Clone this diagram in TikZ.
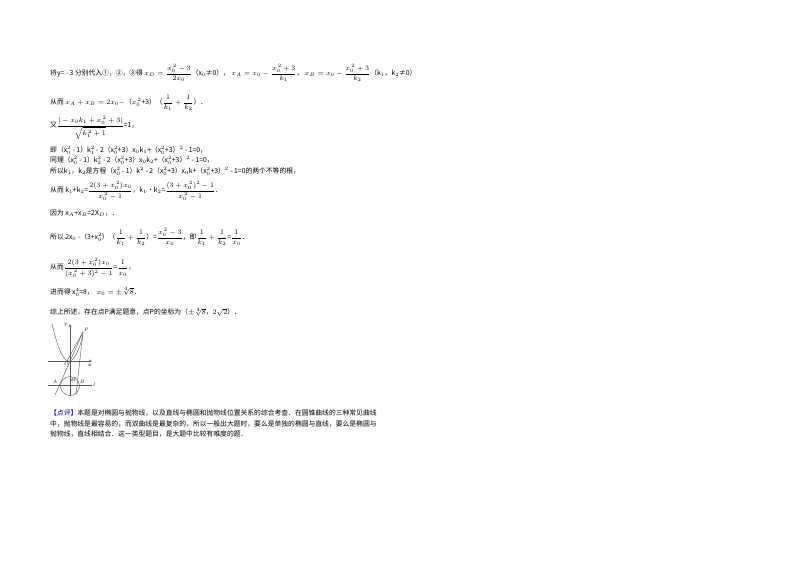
\documentclass[tikz,border=0pt]{standalone}
\usepackage{fontspec}
\usepackage{amsmath}
\newfontfamily\cjk{Noto Sans CJK SC}
\begin{document}
\begin{tikzpicture}[x=1pt,y=-1pt,
  txt/.style={anchor=west,inner sep=0pt,font=\cjk\fontsize{6.8}{8}\selectfont},
  fig/.style={line width=0.4pt,gray!70!black}]
\useasboundingbox (0,0) rectangle (800,566);
\fill[white] (0,0) rectangle (800,566);
\node[txt] (l1) at (50,73) {将y= - 3 分别代入①，②，③得$\,x_D=\dfrac{x_0^{\,2}-3}{2x_0}$（x$_0$≠0），
 $x_A=x_0-\dfrac{x_0^{\,2}+3}{k_1}$，\ $x_B=x_0-\dfrac{x_0^{\,2}+3}{k_2}$（k$_1$，k$_2$≠0）};
\node[txt] (l2) at (50,103) {从而 $x_A+x_B=2x_0-$（$x_0^{\,2}$+3）（$\dfrac{1}{k_1}+\dfrac{1}{k_2}$）．};
\node[txt] (l3) at (50,128) {又$\dfrac{|-x_0k_1+x_0^{\,2}+3|}{\sqrt{k_1^{\,2}+1}}$=1，};
\node[txt] (l4) at (50,150) {即（x$_0^2$ - 1）k$_1^2$ - 2（x$_0^2$+3）x$_0$k$_1$+（x$_0^2$+3）$^2$ - 1=0，};
\node[txt] (l5) at (50,160.5) {同理（x$_0^2$ - 1）k$_2^2$ - 2（x$_0^2$+3）x$_0$k$_2$+（x$_0^2$+3）$^2$ - 1=0，};
\node[txt] (l6) at (50,171) {所以k$_1$，k$_2$是方程（x$_0^2$ - 1）k$^2$ - 2（x$_0^2$+3）x$_0$k+（x$_0^2$+3）$^2$ - 1=0的两个不等的根，};
\node[txt] (l7) at (50,191) {从而 k$_1$+k$_2$=$\dfrac{2(3+x_0^{\,2})x_0}{x_0^{\,2}-1}$，k$_1$•k$_2$=$\dfrac{(3+x_0^{\,2})^2-1}{x_0^{\,2}-1}$．};
\node[txt] (l8) at (50,213) {因为 x$_A$+x$_B$=2X$_D$，．};
\node[txt] (l9) at (50,237) {所以 2x$_0$ -（3+x$_0^2$）（$\dfrac{1}{k_1}+\dfrac{1}{k_2}$）=$\dfrac{x_0^{\,2}-3}{x_0}$，即$\dfrac{1}{k_1}+\dfrac{1}{k_2}$=$\dfrac{1}{x_0}$．};
\node[txt] (l10) at (50,268) {从而$\dfrac{2(3+x_0^{\,2})x_0}{(x_0^{\,2}+3)^2-1}$=$\dfrac{1}{x_0}$，};
\node[txt] (l11) at (50,292) {进而得 x$_0^4$=8，\ \ $x_0=\pm\sqrt[4]{8}$．};
\node[txt] (l12) at (50,312) {综上所述，存在点P满足题意，点P的坐标为（$\pm\sqrt[4]{8}$，$2\sqrt{2}$）．};
% figure
\coordinate (ya) at (70,396); \coordinate (yb) at (70,324);
\draw[fig,-stealth] (ya) -- (yb);
\node[font=\fontsize{5}{5}\selectfont,inner sep=0pt] (ylab) at (66,325) {y};
\draw[fig,-stealth] (48,361) -- (92,361);
\node[font=\fontsize{5}{5}\selectfont,inner sep=0pt] (xlab) at (90,365) {x};
\draw[fig] (48,385) -- (92,385);
\node[font=\itshape\fontsize{5}{5}\selectfont,inner sep=0pt] (llab) at (94,385) {l};
\draw[fig] plot[domain=-17:14,samples=40] ({69+\x},{361-0.13*\x*\x});
\draw[fig] (70,386) circle (9.5);
\coordinate (P) at (83,332);
\node[font=\itshape\fontsize{5}{5}\selectfont,inner sep=0pt] (Plab) at (86,330) {P};
\draw[fig] (P) -- (55,395);
\draw[fig] (P) -- (76,395);
\draw[fig] (P) -- (67,361);
\node[font=\itshape\fontsize{5}{5}\selectfont,inner sep=0pt] (Olab) at (66,364) {O};
\node[font=\itshape\fontsize{5}{5}\selectfont,inner sep=0pt] (Alab) at (55,382) {A};
\node[font=\itshape\fontsize{5}{5}\selectfont,inner sep=0pt] (Mlab) at (73,380) {M};
\node[font=\itshape\fontsize{5}{5}\selectfont,inner sep=0pt] (Blab) at (82,382) {B};
% comment
\node[txt] (c1) at (50,413) {\textcolor{blue!80!black}{【点评】}本题是对椭圆与抛物线，以及直线与椭圆和抛物线位置关系的综合考查．在圆锥曲线的三种常见曲线};
\node[txt] (c2) at (50,423.5) {中，抛物线是最容易的，而双曲线是最复杂的，所以一般出大题时，要么是单独的椭圆与直线，要么是椭圆与};
\node[txt] (c3) at (50,434) {抛物线，直线相结合．这一类型题目，是大题中比较有难度的题．};
\end{tikzpicture}
\end{document}
